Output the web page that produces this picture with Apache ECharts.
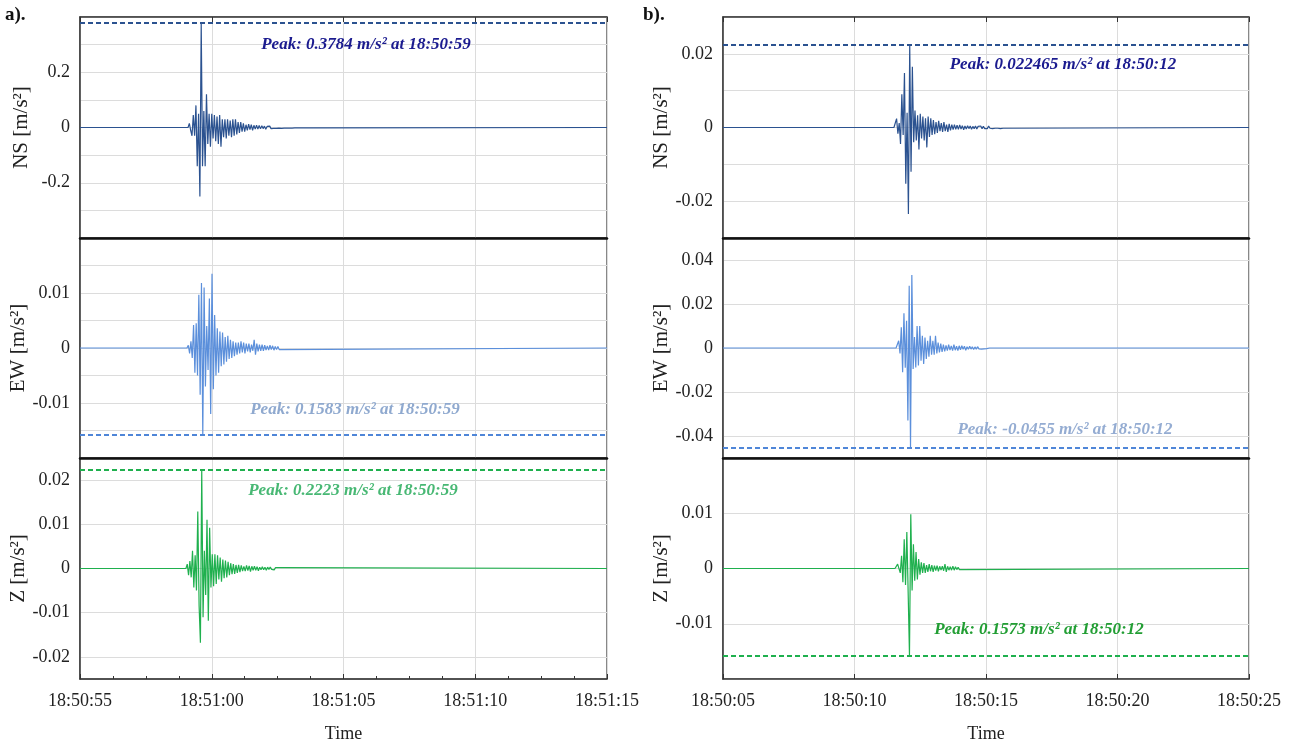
<!DOCTYPE html>
<html><head><meta charset="utf-8">
<script src="https://cdn.jsdelivr.net/npm/echarts@6/dist/echarts.min.js"></script>
<style>html,body{margin:0;padding:0;background:#fff}#c{width:1293px;height:746px}</style>
</head><body><div id="c"></div>
<script>
// ---------------- data ----------------
const timeLabelsA = ['18:50:55', '18:51:00', '18:51:05', '18:51:10', '18:51:15'];
const timeLabelsB = ['18:50:05', '18:50:10', '18:50:15', '18:50:20', '18:50:25'];
const componentNames = ['NS [m/s²]', 'EW [m/s²]', 'Z [m/s²]'];
const sampleStep = 0.05;               // seconds between digitised samples
const startA = [4.15, 4.11, 4.07];     // seconds after 18:50:55
const startB = [6.55, 6.63, 6.59];     // seconds after 18:50:05

const nsA = [0.015,-0.01,-0.03,0.045,-0.03,0.08,-0.14,0.05,-0.25,0.378,-0.14,0.06,-0.14,0.12,-0.06,0.05,-0.07,0.05,-0.04,0.045,
  -0.05,0.04,-0.06,0.045,-0.07,0.03,-0.035,0.03,-0.04,0.03,-0.03,0.025,-0.035,0.03,-0.03,0.03,-0.025,0.02,-0.02,0.02,
  -0.015,0.015,-0.015,0.01,-0.01,0.012,-0.008,0.01,-0.01,0.008,-0.006,0.008,-0.006,
  0.007,-0.005,0.006,-0.004,0.005,-0.006,0.004,-0.003,0.005,-0.004,0.003,-0.003,0.004,-0.003,0.003,-0.002,0.003,-0.003,0.002,-0.002,
  0.003,-0.002,0.002,-0.002,0.0025,-0.002,0.002,-0.0015,0.002,-0.0015,0.0015,-0.0015,0.002,-0.0015,0.0015,-0.001,0.0015,-0.001,0.001,-0.001];
const ewA = [0.0005,-0.001,0.0012,-0.0018,0.0042,-0.0045,0.0045,-0.005,0.0097,-0.0085,0.0118,-0.0158,0.011,-0.007,0.004,-0.004,0.009,-0.012,0.0135,-0.0075,
  0.006,-0.005,0.0036,-0.0045,0.003,-0.0033,0.0028,-0.003,0.002,-0.0025,0.0022,-0.002,0.0015,-0.0018,0.0012,-0.0015,0.001,-0.0012,0.001,-0.001,
  0.0012,-0.0008,0.001,-0.001,0.0008,-0.0006,0.0008,-0.0008,0.0006,-0.0005,0.0015,-0.0012,0.0008,-0.0006,0.0006,-0.0005,0.0006,-0.0005,0.0005,-0.0004,
  0.0004,-0.0004,0.0005,-0.0003,0.0004,-0.0004,0.0003,-0.0003,0.0003,-0.0003];
const zA = [0.001,-0.0015,0.0017,-0.002,0.004,-0.0043,0.003,-0.005,0.0129,-0.0084,-0.0168,0.0222,-0.011,0.004,-0.006,0.011,-0.0118,0.0092,-0.0043,0.0032,
  -0.004,0.0032,-0.0035,0.003,-0.0025,0.0025,-0.003,0.002,-0.0022,0.0018,-0.002,0.0015,-0.0015,0.0012,-0.0013,0.001,-0.0012,0.0008,-0.001,0.0008,
  -0.0008,0.0007,-0.0006,0.0005,-0.0006,0.0007,-0.0005,0.0006,-0.0007,0.0005,-0.0004,0.0005,-0.0004,0.0004,-0.0005,0.0003,-0.0003,0.0004,-0.0003,0.0003,
  -0.0004,0.0003,-0.0002,0.0003,-0.0002,0.0002,-0.0003,0.0002,-0.0002,0.0002];
const nsB = [0.0005,0.0024,-0.0017,0.0012,-0.0045,0.009,-0.002,0.0148,-0.0153,0.004,-0.0235,0.0225,-0.012,0.0165,-0.004,0.0046,-0.0035,0.0033,-0.006,0.0037,
  -0.003,0.003,-0.0035,0.0025,-0.0054,0.003,-0.0026,0.0025,-0.002,0.002,-0.0018,0.0015,-0.0015,0.0018,-0.001,0.0012,-0.0012,0.0015,-0.001,0.0008,
  -0.0012,0.001,-0.0008,0.0008,-0.0006,0.0008,-0.0005,
  0.0006,-0.0005,0.0007,-0.0004,0.0005,-0.0006,0.0004,-0.0004,0.0005,-0.0003,0.0004,-0.0005,0.0003,-0.0003,0.0004,-0.0004,0.0003,-0.0002,
  0.0004,-0.0003,0.0003,-0.0003,0.0002,-0.0003,0.0004,-0.0002,0.0003,-0.0003,0.0002,-0.0002,0.0003,-0.0002,0.0002,-0.0003,0.0002,-0.0002];
const ewB = [0.0005,0.0033,-0.0025,0.0094,-0.011,0.0158,-0.009,0.0124,-0.033,0.0283,-0.0455,0.0332,-0.0095,0.005,-0.0088,0.01,-0.008,0.01,-0.0058,0.0056,
  -0.0073,0.0048,-0.005,0.0033,-0.004,0.0056,-0.003,0.0033,-0.003,0.0056,-0.0025,0.0025,-0.002,0.002,-0.0018,0.0015,-0.0015,0.0012,-0.0012,0.0015,
  -0.001,0.001,-0.0012,0.0015,-0.001,0.0008,-0.0012,0.001,-0.0008,0.001,-0.0006,0.0008,-0.001,0.0006,-0.0006,0.0008,-0.0005,0.0006,-0.0007,0.0005,
  -0.0005,0.0006,-0.0004,0.0005,-0.0005,0.0004,-0.0004,0.0005,-0.0003,0.0004];
const zB = [0.0002,0.0008,0.0011,-0.0008,0.0023,-0.0025,0.0053,-0.003,0.0066,-0.0043,-0.0157,0.0098,-0.004,0.0044,-0.0022,0.003,-0.002,0.0017,-0.0011,0.0011,
  -0.0008,0.001,-0.0008,0.0006,-0.0006,0.0008,-0.0005,0.0006,-0.0006,0.0005,-0.0004,0.0005,-0.0005,0.0004,-0.0003,0.0004,-0.0004,0.0008,-0.0006,0.0004,
  -0.0003,0.0003,-0.0003,0.0004,-0.0003,0.0003,-0.0002,0.0002,-0.0002];

const peakA = [0.3784, -0.01583, 0.02223];
const peakB = [0.022465, -0.0455, -0.01573];
const peakTextA = ['Peak: 0.3784 m/s² at 18:50:59', 'Peak: 0.1583 m/s² at 18:50:59', 'Peak: 0.2223 m/s² at 18:50:59'];
const peakTextB = ['Peak: 0.022465 m/s² at 18:50:12', 'Peak: -0.0455 m/s² at 18:50:12', 'Peak: 0.1573 m/s² at 18:50:12'];

const yTickLabelsA = [[-0.2, 0, 0.2], [-0.01, 0, 0.01], [-0.02, -0.01, 0, 0.01, 0.02]];
const yTickLabelsB = [[-0.02, 0, 0.02], [-0.04, -0.02, 0, 0.02, 0.04], [-0.01, 0, 0.01]];

// ---------------- layout / style ----------------
const FONT = "'Liberation Serif','Times New Roman',serif";
const yScaleA = [[-0.4, 0.4, 0.1, false], [-0.02, 0.02, 0.005, false], [-0.025, 0.025, 0.005, true]];
const yScaleB = [[-0.03, 0.03, 0.01, false], [-0.05, 0.05, 0.01, true], [-0.02, 0.02, 0.01, false]];
const lineColors = ['#2b5290', '#5b8fdb', '#1fb04e'];
const dashColors = ['#2b5290', '#4f86d8', '#1fb04e'];
const textColorsA = ['#1b1b8f', '#8fa9cf', '#48b874'];
const textColorsB = ['#1b1b8f', '#94acd2', '#229e34'];
const textPosA = [[366, 45], [355, 410], [353, 491]];
const textPosB = [[1063, 65], [1065, 430], [1039, 630]];
const rowTops = [17, 238, 458];
const rowHeights = [221, 220, 221];
const panels = [
  {left: 80, right: 686, starts: startA, traces: [nsA, ewA, zA], peaks: peakA, texts: peakTextA, tcol: textColorsA,
   tpos: textPosA, labels: timeLabelsA, yScale: yScaleA, yLab: yTickLabelsA, minor: true},
  {left: 723, right: 44, starts: startB, traces: [nsB, ewB, zB], peaks: peakB, texts: peakTextB, tcol: textColorsB,
   tpos: textPosB, labels: timeLabelsB, yScale: yScaleB, yLab: yTickLabelsB, minor: false}
];

function buildTrace(t0, vals) {
  const pts = [[0, 0], [t0 - sampleStep, 0]];
  vals.forEach((v, i) => pts.push([+(t0 + i * sampleStep).toFixed(4), v]));
  pts.push([+(t0 + vals.length * sampleStep).toFixed(4), 0]);
  pts.push([20, 0]);
  return pts;
}

const grid = [], xAxis = [], yAxis = [], series = [], graphic = [], topAxes = [];
panels.forEach((p, pi) => {
  for (let r = 0; r < 3; r++) {
    const gi = grid.length;
    grid.push({left: p.left, right: p.right, top: rowTops[r], height: rowHeights[r],
      show: true, borderColor: '#3a3a3a', borderWidth: 1.2, backgroundColor: '#fff'});
    const isBottom = r === 2;
    xAxis.push({
      type: 'value', gridIndex: gi, min: 0, max: 20, interval: 5,
      axisLine: {show: true, onZero: false, lineStyle: isBottom ? {color: '#3a3a3a', width: 1.5} : {color: '#111', width: 2.5}},
      axisTick: {show: isBottom, inside: true, length: 5, lineStyle: {color: '#333'}},
      minorTick: {show: isBottom && p.minor, splitNumber: 4, length: 3, lineStyle: {color: '#333'}},
      axisLabel: {show: isBottom, margin: 13, fontSize: 18, color: '#222', fontFamily: FONT,
        formatter: v => p.labels[Math.round(v / 5)] || ''},
      splitLine: {show: true, lineStyle: {color: '#dcdcdc', width: 1}},
      name: isBottom ? 'Time' : '', nameLocation: 'middle', nameGap: 46,
      nameTextStyle: {fontSize: 18, color: '#222', fontFamily: FONT}
    });
    const ys = p.yScale[r];
    const labs = p.yLab[r];
    yAxis.push({
      type: 'value', gridIndex: gi, min: ys[0], max: ys[1], interval: ys[2],
      axisLine: {show: true, onZero: false, lineStyle: {color: '#3a3a3a', width: 1.5}},
      axisTick: {show: false},
      axisLabel: {margin: 10, fontSize: 18, color: '#222', fontFamily: FONT, showMinLabel: true, showMaxLabel: true,
        formatter: v => labs.some(l => Math.abs(l - v) < 1e-9) ? String(+(+v).toFixed(4)) : ''},
      splitLine: {show: true, lineStyle: {color: ys[3] ? ['rgba(0,0,0,0)', '#dcdcdc'] : '#dcdcdc', width: 1}},
      name: componentNames[r], nameLocation: 'middle', nameGap: 48,
      nameTextStyle: {fontSize: 21, color: '#222', fontFamily: FONT}
    });
    series.push({
      type: 'line', xAxisIndex: gi, yAxisIndex: gi, data: buildTrace(p.starts[r], p.traces[r]),
      showSymbol: false, symbol: 'none', animation: false, clip: true,
      lineStyle: {color: lineColors[r], width: 1.2},
      markLine: {silent: true, symbol: ['none', 'none'], animation: false, precision: 8, label: {show: false},
        lineStyle: {color: dashColors[r], type: [5, 3], width: 2},
        data: [{yAxis: p.peaks[r]}]}
    });
    graphic.push({type: 'text', x: p.tpos[r][0], y: p.tpos[r][1], silent: true, z: 100,
      style: {text: p.texts[r], fill: p.tcol[r], font: 'italic bold 17px ' + FONT,
        textAlign: 'center', textVerticalAlign: 'middle', align: 'center', verticalAlign: 'middle'}});
  }
  // top frame ticks
  topAxes.push({type: 'value', gridIndex: pi * 3, position: 'top', min: 0, max: 20, interval: 5,
    axisLine: {show: true, onZero: false, lineStyle: {color: '#3a3a3a', width: 1.5}},
    axisTick: {show: true, inside: true, length: 5, lineStyle: {color: '#333'}},
    axisLabel: {show: false}, splitLine: {show: false}});
});
topAxes.forEach(a => xAxis.push(a));

graphic.push({type: 'text', x: 5, y: 6, style: {text: 'a).', fill: '#111', font: 'bold 19px ' + FONT}});
graphic.push({type: 'text', x: 643, y: 6, style: {text: 'b).', fill: '#111', font: 'bold 19px ' + FONT}});

const chart = echarts.init(document.getElementById('c'), null, {renderer: 'canvas'});
chart.setOption({animation: false, backgroundColor: '#fff', grid, xAxis, yAxis, series, graphic});
</script></body></html>
